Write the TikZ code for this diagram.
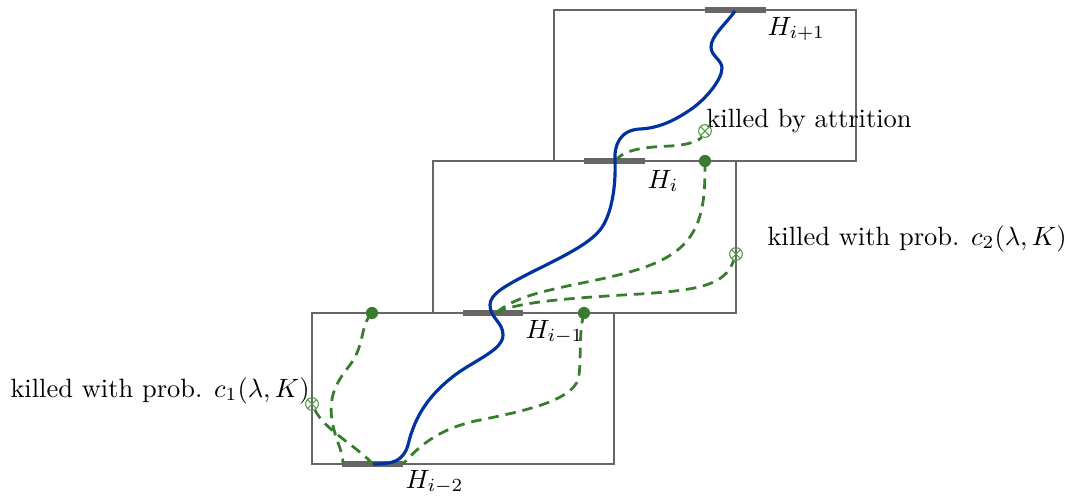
\documentclass[tikz,border=0pt]{standalone}
\definecolor{boxgray}{RGB}{102,102,102}
\definecolor{pathblue}{RGB}{0,51,160}
\definecolor{dashgreen}{RGB}{56,124,46}
\definecolor{markgreen}{RGB}{80,150,70}
\tikzset{
  boxline/.style={draw=boxgray, line width=1.1pt},
  hseg/.style={draw=boxgray, line width=2.5pt},
  bluepath/.style={draw=pathblue, line width=1.2pt},
  greenpath/.style={draw=dashgreen, line width=1.05pt, dash pattern=on 4pt off 2.6pt},
  gdot/.style={circle, fill=dashgreen, inner sep=0pt, minimum size=4.6pt},
  killmark/.style={circle, draw=markgreen, line width=0.4pt, inner sep=0pt, minimum size=4.8pt,
    path picture={\draw[markgreen, line width=0.4pt]
      (path picture bounding box.north west) -- (path picture bounding box.south east)
      (path picture bounding box.north east) -- (path picture bounding box.south west);}},
  lbl/.style={inner sep=0pt, anchor=base west}
}
\begin{document}
\begin{tikzpicture}[x=0.378pt, y=-0.378pt]
\useasboundingbox (0,0) rectangle (1073,497);
% boxes
\draw[boxline] (554,10) rectangle (856,161);
\draw[boxline] (433,161) rectangle (736,313);
\draw[boxline] (312,313) rectangle (614,464);
% hyperplane segments
\coordinate (Hp1L) at (705,10); \coordinate (Hp1R) at (766,10);
\coordinate (H0L) at (584,161); \coordinate (H0R) at (645,161);
\coordinate (Hm1L) at (463,313); \coordinate (Hm1R) at (523,313);
\coordinate (Hm2L) at (342,464); \coordinate (Hm2R) at (403,464);
\draw[hseg] (Hp1L) -- (Hp1R);
\draw[hseg] (H0L) -- (H0R);
\draw[hseg] (Hm1L) -- (Hm1R);
\draw[hseg] (Hm2L) -- (Hm2R);
% labels
\node[lbl] (lHp1) at (767,35) {$H_{i+1}$};
\node[lbl] (lH0) at (647,188) {$H_{i}$};
\node[lbl] (lHm1) at (525,338) {$H_{i-1}$};
\node[lbl] (lHm2) at (405,488) {$H_{i-2}$};
\node[lbl] (tatt) at (706,127) {killed by attrition};
\node[lbl] (tc2) at (767,245) {killed with prob. $c_2(\lambda,K)$};
\node[lbl] (tc1) at (10,397) {killed with prob. $c_1(\lambda,K)$};
% key points
\coordinate (bTop) at (735,11);
\coordinate (bH0) at (615,161);
\coordinate (bBot) at (373,464);
\coordinate (gHm1) at (496,313);
\coordinate (gHm2L) at (343,464);
\coordinate (gHm2R) at (403,464);
% dots and kill marks
\node[gdot] (d1) at (705,161) {};
\node[gdot] (d2) at (372,313) {};
\node[gdot] (d3) at (584,313) {};
\node[killmark] (k1) at (705,131) {};
\node[killmark] (k2) at (736,254) {};
\node[killmark] (k3) at (312,404) {};
% green dashed paths
\draw[greenpath] (bH0) .. controls (625,148) and (650,147) .. (670,146)
  .. controls (690,145) and (700,140) .. (k1);
\draw[greenpath] (d1.center) .. controls (705,195) and (705,230) .. (675,252)
  .. controls (645,274) and (590,280) .. (550,290)
  .. controls (520,297) and (505,305) .. (gHm1);
\draw[greenpath] (gHm1) .. controls (515,302) and (570,298) .. (640,294)
  .. controls (700,290) and (725,285) .. (k2);
\draw[greenpath] (d2.center) .. controls (360,325) and (365,345) .. (350,365)
  .. controls (338,380) and (328,395) .. (332,420)
  .. controls (335,440) and (343,450) .. (gHm2L);
\draw[greenpath] (bBot) .. controls (355,445) and (325,430) .. (k3);
\draw[greenpath] (d3.center) .. controls (578,335) and (582,365) .. (578,380)
  .. controls (570,400) and (530,410) .. (480,420)
  .. controls (440,428) and (420,445) .. (gHm2R);
% blue path
\draw[bluepath] (bTop) .. controls (725,25) and (711,36) .. (711,47)
  .. controls (711,56) and (722,60) .. (722,68)
  .. controls (722,80) and (705,100) .. (690,110)
  .. controls (675,120) and (660,128) .. (640,129)
  .. controls (620,130) and (614,145) .. (bH0)
  .. controls (616,185) and (612,215) .. (600,230)
  .. controls (588,245) and (560,258) .. (530,273)
  .. controls (505,286) and (490,294) .. (490,305)
  .. controls (490,318) and (503,322) .. (503,335)
  .. controls (503,350) and (475,360) .. (455,375)
  .. controls (430,394) and (415,415) .. (408,445)
  .. controls (403,462) and (392,464) .. (bBot);
\end{tikzpicture}
\end{document}
